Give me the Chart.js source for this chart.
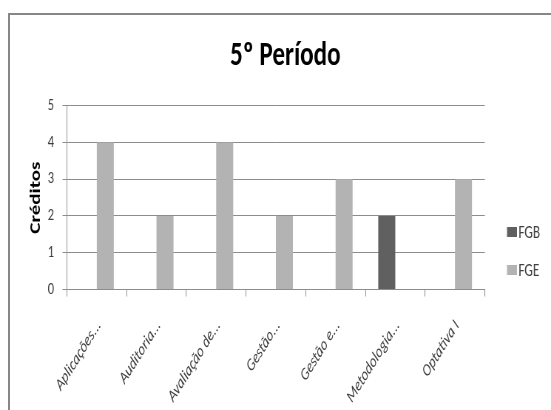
<!DOCTYPE html>
<html>
<head>
<meta charset="utf-8">
<title>5º Período</title>
<script src="https://cdn.jsdelivr.net/npm/chart.js@4/dist/chart.umd.min.js"></script>
<style>
  html, body { margin: 0; padding: 0; background: #fff; width: 551px; height: 410px; overflow: hidden; }
  #frame {
    position: absolute; left: 8px; top: 13px; width: 580px; height: 430px;
    border-left: 2px solid #878787; border-top: 2px solid #878787; box-sizing: border-box;
  }
  /* the chart is laid out wide and then narrowed horizontally */
  #stage {
    position: absolute; left: 0; top: 0; width: 745px; height: 410px;
    transform: scaleX(0.7396); transform-origin: 0 0;
  }
</style>
</head>
<body>
<div id="frame"></div>
<div id="stage"><canvas id="chart" width="745" height="410"></canvas></div>
<script>
// Disciplinas do 5º período e respetivos créditos
const categories = ['Aplicações...', 'Auditoria...', 'Avaliação de...', 'Gestão...', 'Gestão e...', 'Metodologia...', 'Optativa I'];
const fgbCredits = [null, null, null, null, null, 2, null];
const fgeCredits = [4, 2, 4, 2, 3, null, 3];
const creditTicks = [0, 1, 2, 3, 4, 5];

const FONT = 'Carlito, Calibri, Lato, sans-serif';
const GRID = '#8c8c8c';
const TEXT = '#404040';

// Legend placed in its own layout box on the right of the plot
const LEGEND = { width: 84.5, inset: 30, box: 13.5, boxH: 10, firstY: 232, step: 38, fontSize: 18 };

const sideLegend = {
  id: 'sideLegend',
  beforeInit(chart) {
    const box = {
      position: 'right', weight: 1000, fullSize: false, options: {},
      left: 0, top: 0, right: 0, bottom: 0, width: 0, height: 0,
      isHorizontal() { return false; },
      getPadding() { return { top: 0, left: 0, right: 0, bottom: 0 }; },
      update(maxWidth, maxHeight) { this.width = LEGEND.width; this.height = maxHeight; return { width: this.width, height: this.height }; },
      draw() {
        const ctx = chart.ctx;
        ctx.save();
        ctx.font = `${LEGEND.fontSize}px ${FONT}`;
        ctx.textBaseline = 'middle';
        ctx.textAlign = 'left';
        chart.data.datasets.forEach((ds, i) => {
          const cy = LEGEND.firstY + i * LEGEND.step;
          const x = this.left + LEGEND.inset;
          ctx.fillStyle = ds.backgroundColor;
          ctx.fillRect(x, cy - LEGEND.boxH / 2, LEGEND.box, LEGEND.boxH);
          ctx.fillStyle = TEXT;
          ctx.fillText(ds.label, x + LEGEND.box + 2, cy + 1);
        });
        ctx.restore();
      }
    };
    Chart.layouts.addBox(chart, box);
  }
};

new Chart(document.getElementById('chart'), {
  type: 'bar',
  data: {
    labels: categories,
    datasets: [
      { label: 'FGB', data: fgbCredits, backgroundColor: '#606060' },
      { label: 'FGE', data: fgeCredits, backgroundColor: '#b3b3b3' }
    ]
  },
  plugins: [sideLegend],
  options: {
    responsive: false,
    animation: false,
    devicePixelRatio: 1,
    datasets: { bar: { categoryPercentage: 0.57, barPercentage: 1 } },
    layout: { padding: { left: 31.5, right: 5, top: 0, bottom: 0 } },
    plugins: {
      tooltip: { enabled: false },
      legend: { display: false },
      title: {
        display: true,
        text: '5º Período',
        color: '#000',
        font: { family: FONT, size: 34, weight: 'bold' },
        padding: { top: 36.1, bottom: 28.8 }
      }
    },
    scales: {
      x: {
        grid: { drawOnChartArea: false, drawTicks: true, tickLength: 7, color: GRID, offset: true },
        border: { color: GRID, width: 1 },
        ticks: {
          autoSkip: false, minRotation: 50, maxRotation: 50, padding: 20, labelOffset: 3,
          color: TEXT, font: { family: FONT, size: 17, style: 'italic' }
        },
        afterFit(scale) { scale.height = 120.5; }
      },
      y: {
        min: 0,
        max: 5,
        afterBuildTicks(scale) { scale.ticks = creditTicks.map(v => ({ value: v })); },
        grid: { color: GRID, tickLength: 6 },
        border: { color: GRID, width: 1 },
        ticks: { padding: 11.5, color: TEXT, font: { family: FONT, size: 17 } },
        title: {
          display: true,
          text: 'Créditos',
          color: '#000',
          font: { family: FONT, size: 21, weight: 'bold' },
          padding: { top: 4.9, bottom: 0 }
        },
        afterFit(scale) { scale.width = 59; }
      }
    }
  }
});
</script>
</body>
</html>
